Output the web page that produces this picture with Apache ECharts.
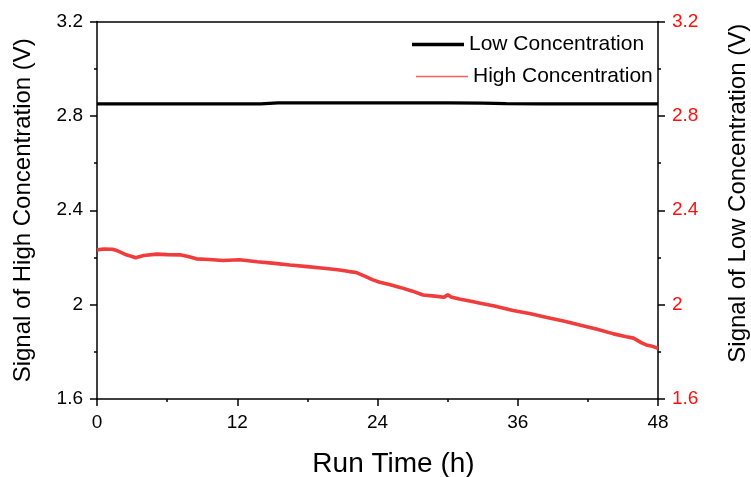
<!DOCTYPE html>
<html>
<head>
<meta charset="utf-8">
<script src="https://cdn.jsdelivr.net/npm/echarts@6/dist/echarts.min.js"></script>
<style>
  html, body { margin: 0; padding: 0; background: #fff; }
  #chart { width: 751px; height: 477px; }
</style>
</head>
<body>
<div id="chart"></div>
<script>
// Run time (h) and signal (V) for the two samples
const lowTime   = [0, 5, 10, 14, 15.5, 20, 25, 30, 33, 35, 38, 42, 48];
const lowSignal = [2.851, 2.851, 2.851, 2.851, 2.855, 2.855, 2.855, 2.855, 2.854, 2.852, 2.851, 2.851, 2.851];

const highTime = [0, 0.6, 1.3, 1.7, 2.1, 2.5, 3.0, 3.3, 4.0, 5.1, 6.0, 7.1, 7.8, 8.5,
  9.6, 10.8, 12.2, 13.7, 15.0, 16.5, 18.0, 19.4, 20.6, 21.6, 22.2, 22.9, 23.6,
  24.2, 25.1, 26.0, 27.0, 27.9, 28.9, 29.7, 30.0, 30.3, 31.0, 32.0, 32.8, 34.0,
  35.6, 37.0, 38.5, 40.0, 41.3, 42.8, 44.2, 45.3, 45.9, 46.6, 47.0, 47.4, 48];
const highSignal = [2.232, 2.236, 2.235, 2.229, 2.220, 2.211, 2.204, 2.199, 2.208, 2.214, 2.212, 2.211, 2.204, 2.194,
  2.191, 2.187, 2.190, 2.182, 2.176, 2.168, 2.161, 2.154, 2.148, 2.140, 2.136, 2.121, 2.105,
  2.095, 2.084, 2.072, 2.057, 2.041, 2.036, 2.031, 2.042, 2.032, 2.024, 2.014, 2.006, 1.994,
  1.975, 1.962, 1.945, 1.930, 1.914, 1.896, 1.876, 1.864, 1.858, 1.838, 1.829, 1.825, 1.815];

const xTicks = [0, 12, 24, 36, 48];
const yTicks = [1.6, 2.0, 2.4, 2.8, 3.2];

const lowName = 'Low Concentration';
const highName = 'High Concentration';

const pair = (ts, vs) => ts.map((t, i) => [t, vs[i]]);
const fmtY = v => String(+(+v).toFixed(1));

const FONT = '"Liberation Sans", Arial, sans-serif';
const INK = '#000';
const RED = '#ff1010';
const LINE_RED = '#f03c3c';

const chart = echarts.init(document.getElementById('chart'), null, { renderer: 'canvas' });

const yBase = (side, labelColor, title, gap, pad) => ({
  type: 'value',
  position: side,
  min: yTicks[0],
  max: yTicks[yTicks.length - 1],
  interval: 0.4,
  splitLine: { show: false },
  axisLine: { show: true, onZero: false, lineStyle: { color: INK, width: 1.5 } },
  axisTick: { show: true, inside: false, length: 7, lineStyle: { color: INK, width: 1.5 } },
  minorTick: { show: true, splitNumber: 2, length: 3, lineStyle: { color: INK, width: 1.5 } },
  axisLabel: { color: labelColor, fontSize: 19, fontFamily: FONT, margin: 14, formatter: fmtY },
  name: title,
  nameLocation: 'middle',
  nameGap: gap,
  nameTextStyle: { color: INK, fontSize: 24, fontFamily: FONT, padding: pad }
});

chart.setOption({
  animation: false,
  backgroundColor: '#fff',
  grid: { left: 97, right: 93, top: 21.5, bottom: 78, containLabel: false, outerBoundsMode: 'none' },
  legend: [
    {
      data: [{ name: lowName, itemStyle: { color: '#000' } }],
      left: 407, top: 29,
      icon: 'rect', itemWidth: 52, itemHeight: 3.5,
      textStyle: { color: INK, fontSize: 21, fontFamily: FONT },
      selectedMode: false
    },
    {
      data: [{ name: highName, itemStyle: { color: '#f26060' } }],
      left: 411, top: 61,
      icon: 'rect', itemWidth: 52, itemHeight: 1.5,
      textStyle: { color: INK, fontSize: 21, fontFamily: FONT },
      selectedMode: false
    }
  ],
  xAxis: [
    {
      type: 'value',
      position: 'bottom',
      min: xTicks[0],
      max: xTicks[xTicks.length - 1],
      interval: 12,
      splitLine: { show: false },
      axisLine: { show: true, onZero: false, lineStyle: { color: INK, width: 1.5 } },
      axisTick: { show: true, inside: false, length: 7, lineStyle: { color: INK, width: 1.5 } },
      minorTick: { show: true, splitNumber: 2, length: 3, lineStyle: { color: INK, width: 1.5 } },
      axisLabel: { color: INK, fontSize: 19, fontFamily: FONT, margin: 14 },
      name: 'Run Time (h)',
      nameLocation: 'middle',
      nameGap: 51,
      nameTextStyle: { color: INK, fontSize: 28, fontFamily: FONT, padding: [0, 0, 0, 32] }
    },
    {
      type: 'value',
      position: 'top',
      min: 0, max: 48,
      axisLine: { show: true, onZero: false, lineStyle: { color: INK, width: 1.5 } },
      axisTick: { show: false },
      axisLabel: { show: false },
      splitLine: { show: false }
    }
  ],
  yAxis: [
    yBase('left', INK, 'Signal of High Concentration (V)', 62, 0),
    yBase('right', RED, 'Signal of Low Concentration (V)', 68, [0, 0, 0, 34])
  ],
  series: [
    {
      name: lowName,
      type: 'line',
      xAxisIndex: 0,
      yAxisIndex: 1,
      data: pair(lowTime, lowSignal),
      showSymbol: false,
      lineStyle: { color: '#000', width: 3.2 },
      itemStyle: { color: '#000' },
      z: 3
    },
    {
      name: highName,
      type: 'line',
      xAxisIndex: 0,
      yAxisIndex: 0,
      data: pair(highTime, highSignal),
      showSymbol: false,
      lineStyle: { color: LINE_RED, width: 3.6 },
      itemStyle: { color: LINE_RED },
      z: 2
    }
  ]
});
</script>
</body>
</html>
